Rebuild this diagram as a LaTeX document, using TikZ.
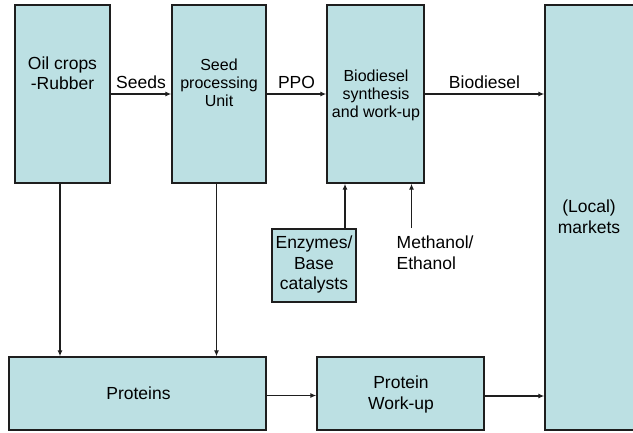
\documentclass[tikz,border=0pt]{standalone}
\usepackage{fontspec}
\setmainfont{Liberation Sans}
\usepackage{xcolor}
\usetikzlibrary{arrows.meta}
\definecolor{boxfill}{RGB}{188,224,227}
\definecolor{boxline}{RGB}{30,30,30}

\begin{document}
\begin{tikzpicture}[x=1pt,y=-1pt,
  unit/.style={draw=boxline,line width=1.4pt,fill=boxfill,inner sep=0pt},
  txt/.style={align=center,inner sep=0pt,font=\fontsize{17.5}{20.5}\selectfont},
  small/.style={align=center,inner sep=0pt,font=\fontsize{16}{17.8}\selectfont},
  flow/.style={draw=boxline,line width=1.3pt,-{Latex[length=6pt,width=5pt]}}]
\useasboundingbox (0,0) rectangle (633,432);
\node[unit,minimum width=95pt,minimum height=178pt](crops)at(62.5,94){};
\node[unit,minimum width=94pt,minimum height=178pt](seed)at(219,94){};
\node[unit,minimum width=97pt,minimum height=178pt](synth)at(375.5,94){};
\node[unit,minimum width=95pt,minimum height=425pt](markets)at(592.5,217.5){};
\node[unit,minimum width=257pt,minimum height=73pt](proteins)at(137.5,393.5){};
\node[unit,minimum width=167pt,minimum height=73pt](workup)at(400.5,393.5){};
\node[unit,minimum width=84pt,minimum height=73pt](enzymes)at(314,265.5){};

\node[txt](cropsT)at(62.5,73){Oil crops\\-Rubber};
\node[small](seedT)at(219,83){Seed\\processing\\Unit};
\node[small](synthT)at(376,95.5){Biodiesel\\synthesis\\and work-up};
\node[txt](marketsT)at(589,216.5){(Local)\\markets};
\node[txt](proteinsT)at(138.5,393){Proteins};
\node[txt](workupT)at(401,394.5){Protein\\Work-up};
\node[txt](enzymesT)at(314,264.5){Enzymes/\\Base\\catalysts};
\node[txt,align=left,anchor=west](methanol)at(396.5,252.5){Methanol/\\Ethanol};
\coordinate(meth)at(411.5,228);

\draw[flow](crops.east)--node[txt,above=5pt](seeds){Seeds}(seed.west);
\draw[flow](seed.east)--node[txt,above=5pt](ppo){PPO}(synth.west);
\draw[flow](synth.east)--node[txt,above=5pt](bd){Biodiesel}(synth.east-|markets.west);
\draw[flow]([xshift=-2.5pt]crops.south)--([xshift=-2.5pt]crops.south|-proteins.north);
\draw[flow]([xshift=-2.5pt]seed.south)--([xshift=-2.5pt]seed.south|-proteins.north);
\draw[flow]([xshift=31pt]enzymes.north)--([xshift=31pt]enzymes.north|-synth.south);
\draw[flow](meth)--(meth|-synth.south);
\draw[flow]([yshift=-2pt]proteins.east)--([yshift=-2pt]proteins.east-|workup.west);
\draw[flow]([yshift=-2.5pt]workup.east)--([yshift=-2.5pt]workup.east-|markets.west);
\end{tikzpicture}
\end{document}
